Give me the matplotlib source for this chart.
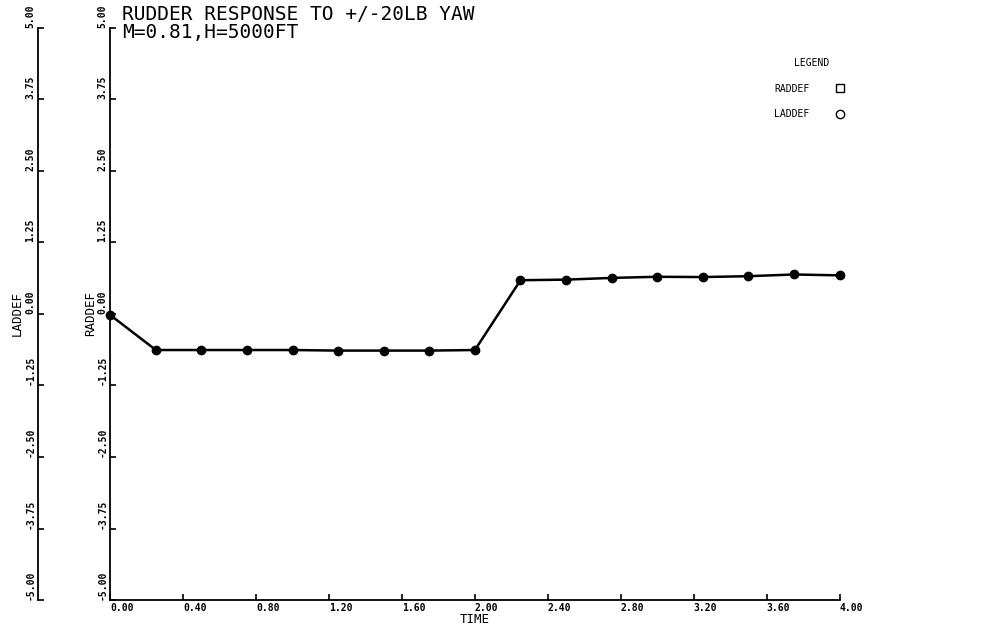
import matplotlib.pyplot as plt
from matplotlib.lines import Line2D

# data
time = [0.00, 0.25, 0.50, 0.75, 1.00, 1.25, 1.50, 1.75, 2.00,
        2.25, 2.50, 2.75, 3.00, 3.25, 3.50, 3.75, 4.00]
raddef = [-0.02, -0.63, -0.63, -0.63, -0.63, -0.64, -0.64, -0.64, -0.63,
          0.59, 0.60, 0.63, 0.65, 0.645, 0.66, 0.69, 0.675]

xticks = [0.0, 0.4, 0.8, 1.2, 1.6, 2.0, 2.4, 2.8, 3.2, 3.6, 4.0]
xticklabels = ["0.00", "0.40", "0.80", "1.20", "1.60", "2.00",
               "2.40", "2.80", "3.20", "3.60", "4.00"]
yticks = [-5.0, -3.75, -2.5, -1.25, 0.0, 1.25, 2.5, 3.75, 5.0]
yticklabels = ["-5.00", "-3.75", "-2.50", "-1.25", "0.00",
               "1.25", "2.50", "3.75", "5.00"]

mono = "DejaVu Sans Mono"

fig = plt.figure(figsize=(10.03, 6.33), dpi=100)
ax = fig.add_axes([0.11, 0.052, 0.727, 0.904])

ax.plot(time, raddef, color="black", lw=1.8, marker="o", ms=6,
        markerfacecolor="black", markeredgecolor="black", clip_on=False)

ax.set_xlim(0, 4)
ax.set_ylim(-5, 5)
for s in ["top", "right"]:
    ax.spines[s].set_visible(False)
for s in ["left", "bottom"]:
    ax.spines[s].set_linewidth(1.3)

ax.set_xticks(xticks)
ax.set_xticklabels(xticklabels, ha="left", fontsize=7, fontweight="bold",
                   family=mono)
ax.set_yticks(yticks)
ax.set_yticklabels(yticklabels, rotation=90, va="bottom", fontsize=7,
                   fontweight="bold", family=mono)
ax.tick_params(direction="in", length=4, width=1.2, pad=2)
ax.set_xlabel("TIME", family=mono, fontsize=9, labelpad=0)
ax.set_ylabel("RADDEF", family=mono, fontsize=9, labelpad=0)

# second vertical axis for LADDEF, drawn further left
ax2 = ax.twinx()
ax2.set_ylim(-5, 5)
ax2.yaxis.set_ticks_position("left")
ax2.yaxis.set_label_position("left")
ax2.spines["left"].set_position(("outward", 52))
ax2.spines["left"].set_linewidth(1.3)
for s in ["top", "right", "bottom"]:
    ax2.spines[s].set_visible(False)
ax2.set_yticks(yticks)
ax2.set_yticklabels(yticklabels, rotation=90, va="bottom", fontsize=7,
                    fontweight="bold", family=mono)
ax2.tick_params(direction="in", length=4, width=1.2, pad=2)
ax2.set_ylabel("LADDEF", family=mono, fontsize=9, labelpad=1)

fig.text(0.122, 0.992, "RUDDER RESPONSE TO +/-20LB YAW", family=mono,
         fontsize=14, va="top")
fig.text(0.122, 0.964, "M=0.81,H=5000FT", family=mono, fontsize=14,
         va="top")

handles = [Line2D([], [], ls="none", marker="s", ms=6, mfc="none",
                  mec="black"),
           Line2D([], [], ls="none", marker="o", ms=6, mfc="none",
                  mec="black")]
leg = fig.legend(handles, ["RADDEF", "LADDEF"], title="LEGEND",
                 markerfirst=False, frameon=False, loc="upper left",
                 bbox_to_anchor=(0.763, 0.922), prop={"family": mono,
                 "size": 7}, labelspacing=1.6, handletextpad=2.2)
leg.get_title().set_fontfamily(mono)
leg.get_title().set_fontsize(7)

fig.savefig("out.png", dpi=100)
